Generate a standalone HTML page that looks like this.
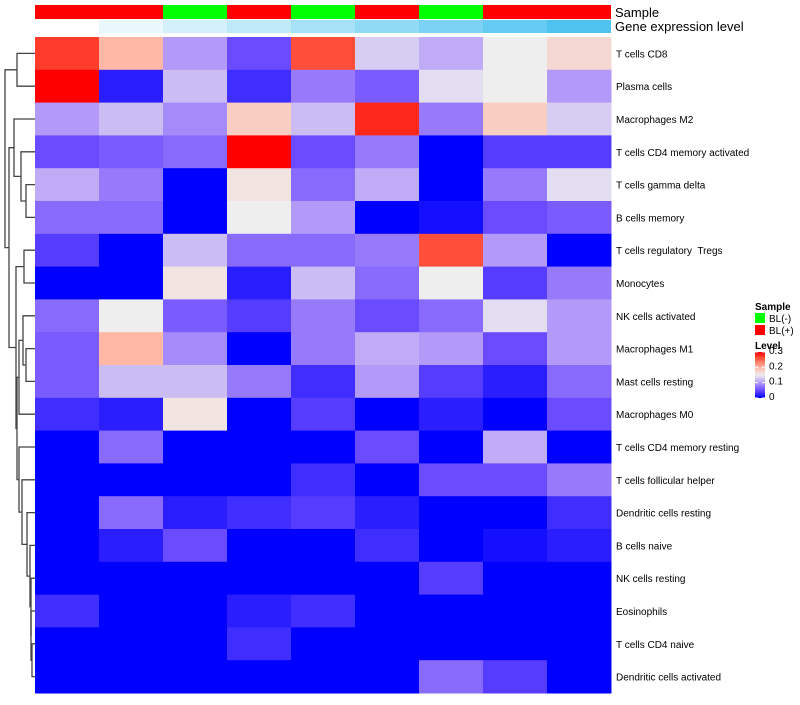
<!DOCTYPE html>
<html><head><meta charset="utf-8"><style>
body{margin:0;background:#fff;font-family:"Liberation Sans",sans-serif}
svg text{font-family:"Liberation Sans",sans-serif;white-space:pre}
</style></head><body>
<svg id="c" width="800" height="700" xmlns="http://www.w3.org/2000/svg"></svg>
<script>
const rowLabels=["T cells CD8","Plasma cells","Macrophages M2","T cells CD4 memory activated","T cells gamma delta","B cells memory","T cells regulatory  Tregs","Monocytes","NK cells activated","Macrophages M1","Mast cells resting","Macrophages M0","T cells CD4 memory resting","T cells follicular helper","Dendritic cells resting","B cells naive","NK cells resting","Eosinophils","T cells CD4 naive","Dendritic cells activated"];
const sampleGroups=["BL(+)","BL(+)","BL(-)","BL(+)","BL(-)","BL(+)","BL(-)","BL(+)","BL(+)"];
const geneLevels=[0,1,2,3,4,5,6,7,8];
const values=[
[0.27,0.2,0.1,0.05,0.26,0.13,0.11,0.15,0.17],
[0.3,0.02,0.12,0.03,0.08,0.06,0.14,0.15,0.1],
[0.1,0.12,0.09,0.18,0.12,0.28,0.08,0.18,0.13],
[0.05,0.06,0.07,0.3,0.05,0.08,0,0.04,0.04],
[0.11,0.08,0,0.16,0.07,0.11,0,0.08,0.14],
[0.07,0.07,0,0.15,0.1,0,0.01,0.05,0.06],
[0.04,0,0.12,0.07,0.07,0.08,0.26,0.1,0],
[0,0,0.16,0.02,0.12,0.07,0.15,0.04,0.08],
[0.07,0.15,0.06,0.04,0.08,0.05,0.07,0.14,0.1],
[0.06,0.2,0.09,0,0.08,0.11,0.1,0.05,0.1],
[0.06,0.12,0.12,0.08,0.03,0.1,0.04,0.02,0.07],
[0.03,0.02,0.16,0,0.04,0,0.02,0,0.05],
[0,0.07,0,0,0,0.05,0,0.11,0],
[0,0,0,0,0.03,0,0.05,0.05,0.08],
[0,0.07,0.02,0.03,0.04,0.02,0,0,0.03],
[0,0.02,0.05,0,0,0.03,0,0.01,0.02],
[0,0,0,0,0,0,0.04,0,0],
[0.03,0,0,0.02,0.03,0,0,0,0],
[0,0,0,0.03,0,0,0,0,0],
[0,0,0,0,0,0,0.07,0.04,0]];
const legendTicks=[0,0.1,0.2,0.3];

const svg=document.getElementById('c');const NS="http://www.w3.org/2000/svg";
function mk(t,a,p){const e=document.createElementNS(NS,t);for(const k in a)e.setAttribute(k,a[k]);(p||svg).appendChild(e);return e;}
const stops=[[0,[0,0,255]],[0.05,[106,75,255]],[0.1,[180,154,248]],[0.15,[238,238,238]],[0.2,[255,184,166]],[0.25,[255,99,72]],[0.3,[255,0,0]]];
function col(v){v=Math.max(0,Math.min(0.3,v));for(let i=1;i<stops.length;i++){if(v<=stops[i][0]){const[a,ca]=stops[i-1],[b,cb]=stops[i];const t=(v-a)/(b-a);return`rgb(${ca.map((c,j)=>Math.round(c+(cb[j]-c)*t)).join(',')})`;}}return'rgb(255,0,0)';}
const X0=35,CW=64,Y0=37,RH=32.8;
const xS=j=>X0+j*CW, yS=i=>Y0+i*RH;
sampleGroups.forEach((g,j)=>{const r=mk('rect',{x:xS(j),y:5,width:CW,height:14,fill:g==="BL(-)"?"#00FF00":"#FF0000"});
});
geneLevels.forEach((g,j)=>{const t=g/8;const c=[255-(255-79)*t,255-(255-195)*t,255-(255-240)*t].map(Math.round);
const r=mk('rect',{x:xS(j),y:20,width:CW,height:13,fill:`rgb(${c})`});
});
let t=mk('text',{x:615,y:17,'font-size':13});t.textContent="Sample";
t=mk('text',{x:615,y:31,'font-size':13});t.textContent="Gene expression level";
values.forEach((row,i)=>{row.forEach((v,j)=>{const r=mk('rect',{x:xS(j),y:yS(i),width:CW+0.5,height:RH+0.5,fill:col(v)});
});
const l=mk('text',{x:616,y:yS(i)+RH/2+4,'font-size':10});l.textContent=rowLabels[i];
});
const tree=[5,[17,0,1],[9,[14,2,[21,3,[26,4,5]]],[16,[24,6,7],[17,[19,[23,8,[26,9,10]],11],[19,12,[22,13,[27,14,[30,15,[31,16,[31,17,[32,18,19]]]]]]]]]]];
const dg=mk('g',{stroke:'#444','stroke-width':1.3,fill:'none'});
function draw(n){if(typeof n==='number')return[yS(n)+RH/2,X0];const a=draw(n[1]),b=draw(n[2]);const x=n[0];
mk('path',{d:`M${a[1]},${a[0]}H${x}V${b[0]}H${b[1]}`},dg);return[(a[0]+b[0])/2,x];}
draw(tree);
t=mk('text',{x:755,y:310,'font-size':10,'font-weight':'bold'});t.textContent="Sample";
[["BL(-)","#00FF00"],["BL(+)","#FF0000"]].forEach((e,k)=>{const r=mk('rect',{x:755,y:313+k*12,width:10,height:10,fill:e[1]});
const tt=mk('text',{x:769,y:322+k*12,'font-size':10});tt.textContent=e[0];});
t=mk('text',{x:755,y:349,'font-size':10,'font-weight':'bold'});t.textContent="Level";
const gr=mk('linearGradient',{id:'lg',x1:0,y1:1,x2:0,y2:0},mk('defs',{}));
stops.forEach(s=>mk('stop',{offset:s[0]/0.3,'stop-color':col(s[0])},gr));
const lb=mk('rect',{x:755,y:352,width:10,height:46,fill:'url(#lg)'});
legendTicks.forEach(v=>{const y=398-v/0.3*46;mk('line',{x1:755,x2:758,y1:y,y2:y,stroke:'#fff'});mk('line',{x1:762,x2:765,y1:y,y2:y,stroke:'#fff'});
const tt=mk('text',{x:769,y:y+2,'font-size':10});tt.textContent=String(v);});
</script>
</body></html>
